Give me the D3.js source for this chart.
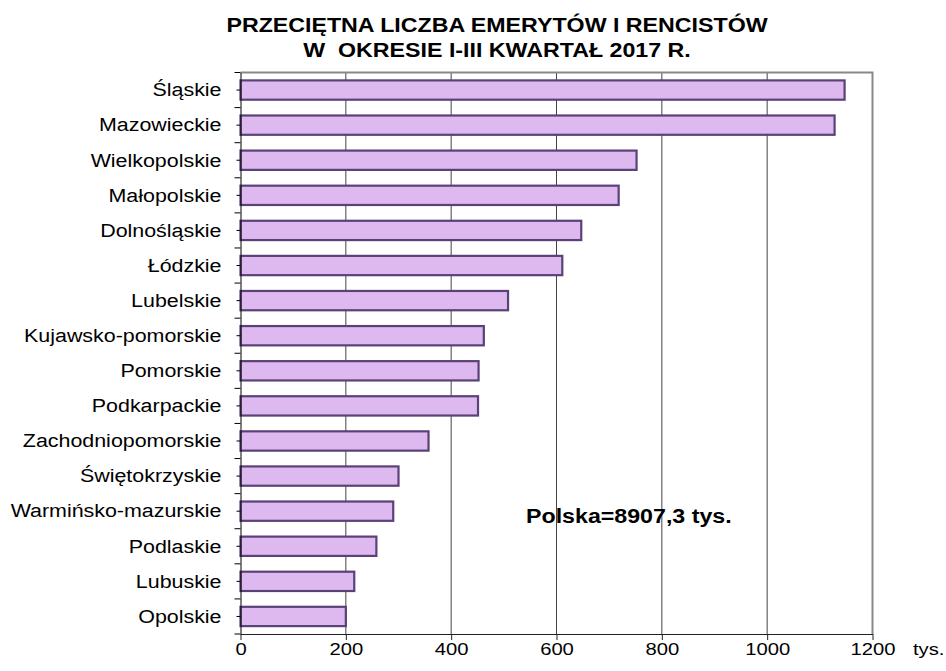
<!DOCTYPE html>
<html>
<head>
<meta charset="utf-8">
<script src="https://cdn.jsdelivr.net/npm/d3@7"></script>
<style>
  body { margin: 0; background: #fff; }
  text { font-family: "Liberation Sans", Arial, sans-serif; fill: #000; }
</style>
</head>
<body>
<div id="chart"></div>
<script>
var width = 946;
var height = 671;

// dane (tys. osob)
var regions = ["Śląskie", "Mazowieckie", "Wielkopolskie", "Małopolskie", "Dolnośląskie", "Łódzkie",
  "Lubelskie", "Kujawsko-pomorskie", "Pomorskie", "Podkarpackie", "Zachodniopomorskie",
  "Świętokrzyskie", "Warmińsko-mazurskie", "Podlaskie", "Lubuskie", "Opolskie"];
var values = [1147, 1128, 752, 718, 647, 611, 508, 462, 452, 451, 357, 300, 290, 258, 216, 200];
var xTicks = [0, 200, 400, 600, 800, 1000, 1200];
var titleLines = ["PRZECIĘTNA LICZBA EMERYTÓW I RENCISTÓW", "W  OKRESIE I-III KWARTAŁ 2017 R."];
var unitLabel = "tys.";
var totalLabel = "Polska=8907,3 tys.";

var stretch = 1.19; // obraz jest rozciagniety w poziomie

var data = regions.map(function(r, i) { return { name: r, value: values[i] }; });

var svg = d3.select('#chart').append('svg').attr('width', width).attr('height', height);

var x = d3.scaleLinear().domain([0, 1200]).range([240.5, 872.5]);
var y = d3.scaleBand().domain(regions).range([72.5, 634]).paddingInner(0.45).paddingOuter(0.225);

function stretchText(sel, px, py) {
  sel.attr('transform', 'translate(' + px + ',' + py + ') scale(' + stretch + ',1)');
}

// title
titleLines.forEach(function(t, i) {
  svg.append('text')
    .attr('text-anchor', 'middle')
    .style('font-weight', 'bold')
    .style('font-size', '19.5px')
    .style('white-space', 'pre')
    .text(t)
    .call(stretchText, 497, 32 + i * 25);
});

// gridlines
svg.append('g').selectAll('line')
  .data(xTicks.filter(function(d) { return d > 0 && d < 1200; }))
  .enter().append('line')
  .attr('x1', function(d) { return x(d); })
  .attr('x2', function(d) { return x(d); })
  .attr('y1', 72.5).attr('y2', 634)
  .style('stroke', '#444').style('stroke-width', 1);

// frame top and right
svg.append('path')
  .attr('d', 'M' + x(0) + ',' + y.range()[0] + 'H' + x(1200) + 'V' + y.range()[1])
  .style('fill', 'none').style('stroke', '#888').style('stroke-width', 2);

// bars
svg.append('g').selectAll('rect')
  .data(data)
  .enter().append('rect')
  .attr('x', x(0))
  .attr('y', function(d) { return y(d.name); })
  .attr('width', function(d) { return x(d.value) - x(0); })
  .attr('height', y.bandwidth())
  .style('fill', '#ddb9f0')
  .style('stroke', '#5a4178')
  .style('stroke-width', 2.2);

// x axis
var xAxis = svg.append('g')
  .attr('transform', 'translate(0,634)')
  .call(d3.axisBottom(x).tickValues(xTicks).tickSize(6).tickSizeOuter(0).tickFormat(d3.format('d')));
xAxis.select('.domain').style('stroke', '#222');
xAxis.selectAll('.tick line').style('stroke', '#222');
xAxis.selectAll('.tick text')
  .style('font-size', '17px')
  .attr('y', 0).attr('dy', null)
  .call(stretchText, 0, 21);

svg.append('text')
  .style('font-size', '17px')
  .text(unitLabel)
  .call(stretchText, 913, 655);

// y axis: linia, male kreski w srodku pasm, dluzsze na granicach
var yAxis = svg.append('g')
  .attr('transform', 'translate(' + x(0) + ',0)')
  .call(d3.axisLeft(y).tickSize(4).tickSizeOuter(0).tickFormat(''));
yAxis.select('.domain').style('stroke', '#000');
yAxis.selectAll('.tick line').style('stroke', '#000');

var bounds = regions.map(function(r) { return y(r) - y.step() * y.paddingInner() / 2; });
bounds.push(y.range()[1]);
yAxis.selectAll('.bound')
  .data(bounds)
  .enter().append('line')
  .attr('class', 'bound')
  .attr('x1', -6).attr('x2', 0)
  .attr('y1', function(d) { return d; })
  .attr('y2', function(d) { return d; })
  .style('stroke', '#000');

// etykiety wojewodztw
svg.append('g').selectAll('text')
  .data(data)
  .enter().append('text')
  .attr('text-anchor', 'end')
  .attr('dy', '0.35em')
  .style('font-size', '18px')
  .text(function(d) { return d.name; })
  .each(function(d) {
    d3.select(this).call(stretchText, 221.5, y(d.name) + y.bandwidth() / 2);
  });

// adnotacja
svg.append('text')
  .style('font-weight', 'bold')
  .style('font-size', '19.5px')
  .text(totalLabel)
  .call(stretchText, 526, 523);
</script>
</body>
</html>
